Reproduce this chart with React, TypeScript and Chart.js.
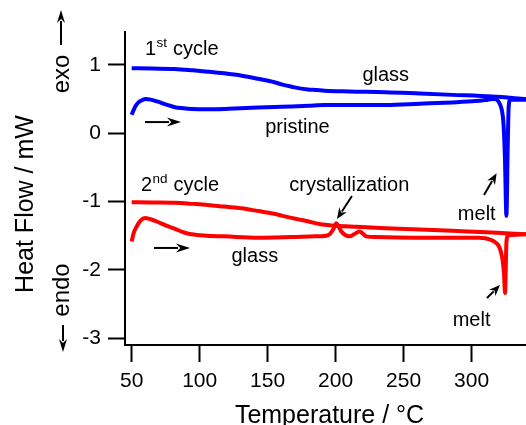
import React, { useEffect, useRef } from "react";
import { Chart, registerables } from "chart.js";

Chart.register(...registerables);

const FONT = '"Liberation Sans", Arial, Helvetica, sans-serif';
const BLUE = "#0000ff";
const RED = "#ff0000";

// 1st cycle, heating scan of the pristine sample (melt endotherm near 326 °C)
const cycle1HeatT = [50, 51.5, 53, 55, 57.5, 60.3, 64, 69.3, 75, 81.8, 88, 94, 105, 118.5, 130, 142.8, 155, 167.6, 180, 192, 215, 237, 262, 286, 303, 312, 316, 318.5, 320.4, 321.5, 322.4, 323.4, 324.5, 325.6, 326.5, 327.3, 328.5, 333, 340];
const cycle1HeatHF = [0.27, 0.34, 0.40, 0.45, 0.48, 0.50, 0.49, 0.46, 0.42, 0.38, 0.365, 0.355, 0.35, 0.355, 0.365, 0.375, 0.383, 0.39, 0.40, 0.41, 0.41, 0.41, 0.43, 0.45, 0.47, 0.49, 0.50, 0.49, 0.44, 0.39, 0.32, 0.15, -0.35, -1.21, -0.25, 0.40, 0.49, 0.49, 0.49];

// 1st cycle, cooling scan (glass)
const cycle1CoolT = [50, 65, 81.8, 95, 106, 118, 131, 143, 155, 161, 167.6, 173.6, 179.5, 186, 192, 210, 237, 262, 286, 315, 340];
const cycle1CoolHF = [0.95, 0.945, 0.94, 0.92, 0.90, 0.875, 0.84, 0.795, 0.745, 0.71, 0.68, 0.655, 0.64, 0.63, 0.62, 0.61, 0.60, 0.58, 0.56, 0.535, 0.50];

// 2nd cycle, heating scan of the glass (cold crystallization ~200 °C, melt ~325 °C)
const cycle2HeatT = [50, 51.5, 53.7, 56.5, 59.8, 64, 69.3, 75, 81.8, 88, 94, 105, 118.5, 142.8, 167.6, 185, 192, 195.6, 198.5, 200.5, 202.5, 204.2, 207, 210.3, 213.5, 217.6, 220, 222.5, 230, 261.7, 305.7, 314.3, 317, 319.2, 320.6, 321.7, 322.8, 323.8, 324.6, 325.6, 326.6, 330, 340];
const cycle2HeatHF = [-1.585, -1.46, -1.365, -1.28, -1.24, -1.26, -1.30, -1.35, -1.40, -1.45, -1.48, -1.50, -1.51, -1.53, -1.52, -1.51, -1.505, -1.48, -1.40, -1.32, -1.38, -1.44, -1.49, -1.51, -1.48, -1.44, -1.47, -1.51, -1.52, -1.53, -1.53, -1.56, -1.59, -1.63, -1.68, -1.75, -1.86, -2.05, -2.34, -1.6, -1.50, -1.49, -1.48];

// 2nd cycle, cooling scan
const cycle2CoolT = [50, 65, 81.8, 95, 106, 118, 131, 143, 155, 161, 167.6, 173.6, 179.5, 188, 200, 215, 237, 262, 286, 315, 340];
const cycle2CoolHF = [-1.01, -1.015, -1.02, -1.035, -1.05, -1.075, -1.10, -1.14, -1.18, -1.21, -1.24, -1.265, -1.29, -1.33, -1.355, -1.37, -1.39, -1.41, -1.43, -1.455, -1.48];

// axis ticks and ranges
const xTicks = [50, 100, 150, 200, 250, 300];
const yTicks = [-3, -2, -1, 0, 1];
const xRange = [45.1, 340];
const yRange = [-3.1, 1.48];

// plain text labels in the plot: text, temperature, heat flow (baseline)
const labelTexts = ["glass", "pristine", "crystallization", "glass", "melt", "melt"];
const labelT = [219.7, 148.2, 165.9, 123.4, 289.9, 286.1];
const labelHF = [0.762, 0.0, -0.847, -1.89, -1.264, -2.82];

// cycle captions with superscript ordinal
const cycleNum = ["1", "2"];
const cycleSup = ["st", "nd"];
const cycleT = [59.8, 56.8];
const cycleHF = [1.138, -0.847];

// pointer arrows: tail (T, HF) -> head (T, HF)
const arrowFromT = [59.8, 66.4, 212.0, 309.1, 311.3];
const arrowFromHF = [0.162, -1.68, -0.92, -0.906, -2.413];
const arrowToT = [86.3, 92.9, 201.0, 318.4, 320.9];
const arrowToHF = [0.162, -1.68, -1.257, -0.588, -2.223];

const toPoints = (t: number[], hf: number[]) => t.map((v, i) => ({ x: v, y: hf[i] }));

function drawArrow(
  ctx: CanvasRenderingContext2D,
  x1: number,
  y1: number,
  x2: number,
  y2: number,
  headLen: number,
  headHalf: number,
  lw: number
) {
  const ang = Math.atan2(y2 - y1, x2 - x1);
  const bx = x2 - headLen * Math.cos(ang);
  const by = y2 - headLen * Math.sin(ang);
  ctx.beginPath();
  ctx.lineWidth = lw;
  ctx.moveTo(x1, y1);
  ctx.lineTo(bx + 2 * Math.cos(ang), by + 2 * Math.sin(ang));
  ctx.stroke();
  ctx.beginPath();
  ctx.moveTo(x2, y2);
  ctx.lineTo(bx - headHalf * Math.sin(ang), by + headHalf * Math.cos(ang));
  ctx.lineTo(bx + 0.3 * headLen * Math.cos(ang), by + 0.3 * headLen * Math.sin(ang));
  ctx.lineTo(bx + headHalf * Math.sin(ang), by - headHalf * Math.cos(ang));
  ctx.closePath();
  ctx.fill();
}

const annotationPlugin = {
  id: "dscAnnotations",
  afterDraw(chart: any) {
    const { ctx, chartArea } = chart;
    const xs = chart.scales.x;
    const ys = chart.scales.y;
    ctx.save();
    ctx.fillStyle = "#000";
    ctx.strokeStyle = "#000";
    ctx.textBaseline = "alphabetic";
    ctx.textAlign = "left";

    // plot labels
    ctx.font = `20px ${FONT}`;
    labelTexts.forEach((txt, i) => {
      ctx.fillText(txt, xs.getPixelForValue(labelT[i]), ys.getPixelForValue(labelHF[i]));
    });

    // cycle captions
    cycleNum.forEach((num, i) => {
      const x = xs.getPixelForValue(cycleT[i]);
      const y = ys.getPixelForValue(cycleHF[i]);
      ctx.font = `20px ${FONT}`;
      ctx.fillText(num, x, y);
      const w1 = ctx.measureText(num).width;
      ctx.font = `13.5px ${FONT}`;
      ctx.fillText(cycleSup[i], x + w1 + 0.5, y - 8.5);
      const w2 = ctx.measureText(cycleSup[i]).width;
      ctx.font = `20px ${FONT}`;
      ctx.fillText("cycle", x + w1 + w2 + 6.5, y);
    });

    // arrows
    ctx.lineCap = "butt";
    arrowFromT.forEach((_, i) => {
      const horiz = arrowFromHF[i] === arrowToHF[i];
      drawArrow(
        ctx,
        xs.getPixelForValue(arrowFromT[i]),
        ys.getPixelForValue(arrowFromHF[i]),
        xs.getPixelForValue(arrowToT[i]),
        ys.getPixelForValue(arrowToHF[i]),
        horiz ? 14 : 11,
        horiz ? 4.5 : 4.5,
        2
      );
    });

    // x axis title
    ctx.font = `25px ${FONT}`;
    ctx.textAlign = "center";
    ctx.fillText("Temperature / °C", (chartArea.left + chartArea.right) / 2 + 4, chartArea.bottom + 78);

    // y axis title
    ctx.save();
    ctx.translate(chartArea.left - 92, chartArea.top + 172);
    ctx.rotate(-Math.PI / 2);
    ctx.fillText("Heat Flow / mW", 0, 0);
    ctx.restore();

    // exo / endo indicators
    ctx.font = `24px ${FONT}`;
    ctx.save();
    ctx.translate(chartArea.left - 56, chartArea.top + 42);
    ctx.rotate(-Math.PI / 2);
    ctx.fillText("exo", 0, 0);
    ctx.restore();
    ctx.save();
    ctx.translate(chartArea.left - 56, chartArea.top + 258);
    ctx.rotate(-Math.PI / 2);
    ctx.fillText("endo", 0, 0);
    ctx.restore();
    drawArrow(ctx, chartArea.left - 64, chartArea.top + 13, chartArea.left - 64, chartArea.top - 22, 13, 4, 2);
    drawArrow(ctx, chartArea.left - 62, chartArea.top + 293, chartArea.left - 62, chartArea.top + 320, 13, 4, 2);

    ctx.restore();
  },
};

export default function App() {
  const canvasRef = useRef<HTMLCanvasElement | null>(null);

  useEffect(() => {
    if (!canvasRef.current) return;
    Chart.defaults.color = "#000";
    Chart.defaults.font.family = FONT;

    const lineStyle = (color: string) => ({
      borderColor: color,
      backgroundColor: color,
      borderWidth: 4,
      pointRadius: 0,
      fill: false,
      cubicInterpolationMode: "monotone" as const,
      borderJoinStyle: "round" as const,
      borderCapStyle: "butt" as const,
    });

    const axisCommon = {
      type: "linear" as const,
      grid: {
        drawOnChartArea: false,
        drawTicks: true,
        tickLength: 17,
        tickWidth: 2,
        tickColor: "#000",
      },
      border: { display: true, color: "#000", width: 2 },
    };

    const chart = new Chart(canvasRef.current, {
      type: "line",
      data: {
        datasets: [
          { label: "1st cycle heating", data: toPoints(cycle1HeatT, cycle1HeatHF), ...lineStyle(BLUE) },
          { label: "1st cycle cooling", data: toPoints(cycle1CoolT, cycle1CoolHF), ...lineStyle(BLUE) },
          { label: "2nd cycle heating", data: toPoints(cycle2HeatT, cycle2HeatHF), ...lineStyle(RED) },
          { label: "2nd cycle cooling", data: toPoints(cycle2CoolT, cycle2CoolHF), ...lineStyle(RED) },
        ],
      },
      options: {
        animation: false,
        responsive: false,
        devicePixelRatio: 1,
        parsing: false,
        layout: { padding: { top: 32, right: 0, bottom: 0, left: 0 } },
        plugins: {
          legend: { display: false },
          tooltip: { enabled: false },
        },
        scales: {
          x: {
            ...axisCommon,
            position: "bottom",
            min: xRange[0],
            max: xRange[1],
            afterBuildTicks: (s: any) => {
              s.ticks = xTicks.map((v) => ({ value: v }));
            },
            afterFit: (s: any) => {
              s.height = 80;
            },
            ticks: {
              color: "#000",
              font: { family: FONT, size: 21 },
              padding: 7,
              maxRotation: 0,
              autoSkip: false,
              callback: (v: any) => String(v),
            },
          },
          y: {
            ...axisCommon,
            position: "left",
            min: yRange[0],
            max: yRange[1],
            afterBuildTicks: (s: any) => {
              s.ticks = yTicks.map((v) => ({ value: v }));
            },
            afterFit: (s: any) => {
              s.width = 125;
            },
            ticks: {
              color: "#000",
              font: { family: FONT, size: 21 },
              padding: 7,
              autoSkip: false,
              callback: (v: any) => String(v),
            },
          },
        },
      },
      plugins: [annotationPlugin],
    });

    return () => chart.destroy();
  }, []);

  return (
    <div style={{ position: "absolute", left: 0, top: 0, width: 526, height: 425, background: "#fff" }}>
      <canvas ref={canvasRef} width={526} height={425} style={{ display: "block" }} />
    </div>
  );
}
